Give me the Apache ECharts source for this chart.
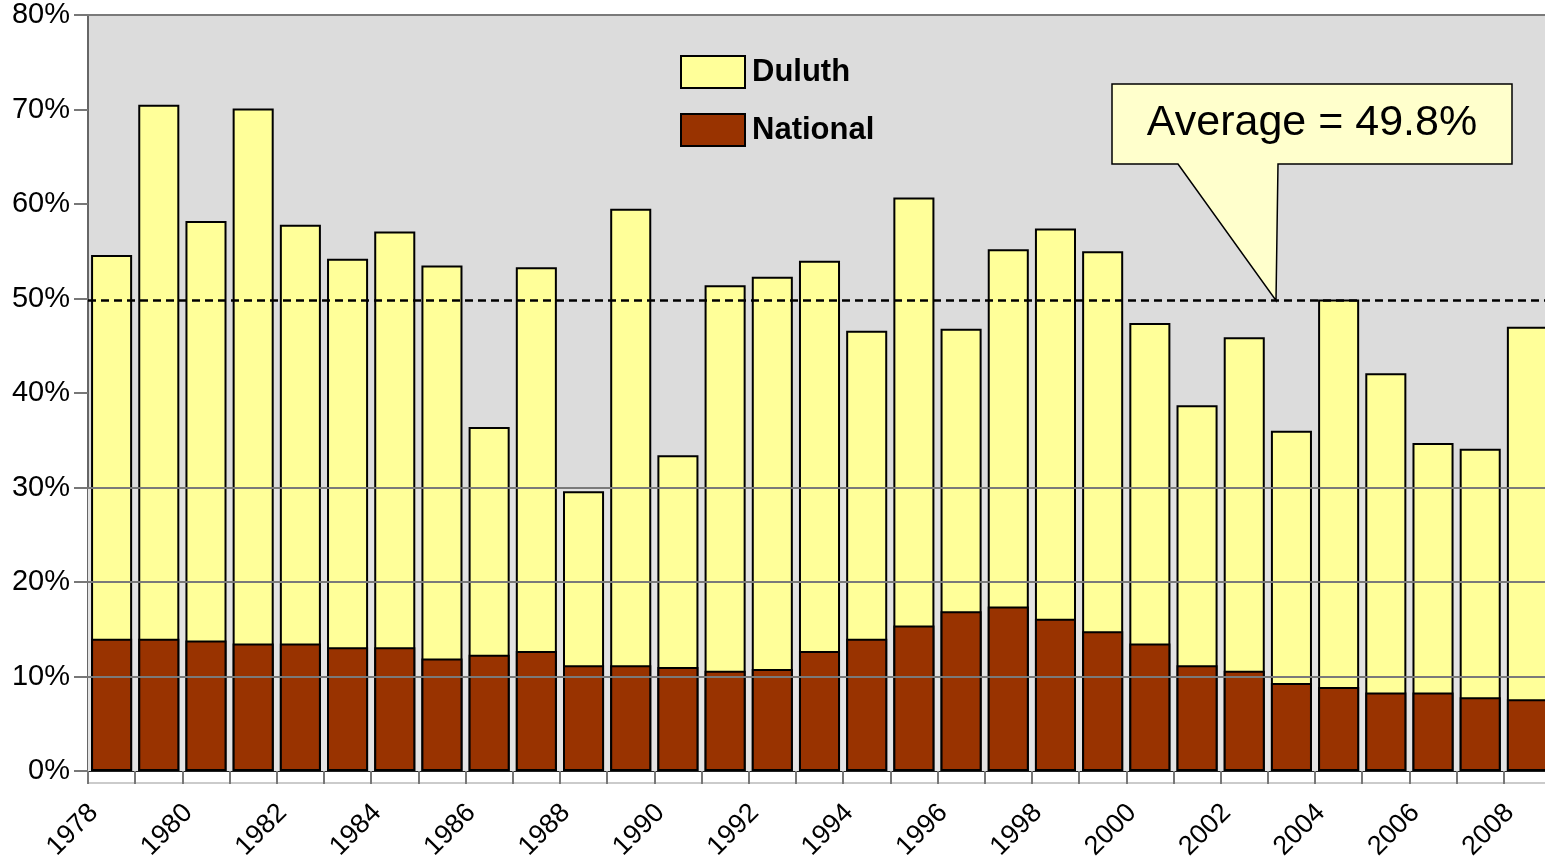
<!DOCTYPE html>
<html>
<head>
<meta charset="utf-8">
<script src="https://cdn.jsdelivr.net/npm/echarts@6/dist/echarts.min.js"></script>
<style>
  html, body { margin: 0; padding: 0; background: #ffffff; }
  #chart { width: 1545px; height: 858px; }
</style>
</head>
<body>
<div id="chart"></div>
<script>
const years = ['1978','1979','1980','1981','1982','1983','1984','1985','1986','1987',
  '1988','1989','1990','1991','1992','1993','1994','1995','1996','1997',
  '1998','1999','2000','2001','2002','2003','2004','2005','2006','2007','2008'];
const duluth = [54.6,70.5,58.2,70.1,57.8,54.2,57.1,53.5,36.4,53.3,
  29.6,59.5,33.4,51.4,52.3,54.0,46.6,60.7,46.8,55.2,
  57.4,55.0,47.4,38.7,45.9,36.0,49.9,42.1,34.7,34.1,47.0];
const national = [14.0,14.0,13.8,13.5,13.5,13.1,13.1,11.9,12.3,12.7,
  11.2,11.2,11.0,10.6,10.8,12.7,14.0,15.4,16.9,17.4,
  16.1,14.8,13.5,11.2,10.6,9.3,8.9,8.3,8.3,7.8,7.6];
const yTicks = [0,10,20,30,40,50,60,70,80];
const gridValues = [10,20,30,80];   // gridlines drawn in the reference
const lightBand = [0,30];           // lighter background band

const avg = duluth.reduce((a,b)=>a+b,0)/duluth.length;
const FONT = '"Liberation Sans", Arial, sans-serif';
const gridStyle = { color: '#7a7a7a', width: 2, type: 'solid' };

const chart = echarts.init(document.getElementById('chart'));
chart.setOption({
  animation: false,
  backgroundColor: '#ffffff',
  textStyle: { fontFamily: FONT },
  grid: { left: 88, top: 15, bottom: 87, right: -6, show: true, backgroundColor: '#DCDCDC', borderWidth: 0,
    containLabel: false, outerBoundsMode: 'none' },
  legend: {
    left: 680, top: 55, orient: 'vertical', padding: 0,
    itemWidth: 64, itemHeight: 32, itemGap: 24,
    icon: 'rect',
    data: ['Duluth','National'],
    textStyle: { fontSize: 31, fontWeight: 'bold', color: '#000', fontFamily: FONT, padding: [8,0,0,2] }
  },
  xAxis: [{
    type: 'category', data: years, position: 'bottom',
    axisLine: { show: true, lineStyle: { color: '#222', width: 2 } },
    axisTick: { show: true, interval: 0, length: 13, lineStyle: { color: '#777', width: 2 } },
    axisLabel: { interval: 1, rotate: 45, fontSize: 27, color: '#000', margin: 20, fontFamily: FONT,
      padding: [0, 25, 0, 0] },
    splitLine: { show: false }
  }, {
    type: 'category', data: years, position: 'bottom', offset: 12,
    axisLine: { show: true, lineStyle: { color: '#bbb', width: 1.5 } },
    axisTick: { show: false }, axisLabel: { show: false }, splitLine: { show: false }
  }],
  yAxis: {
    type: 'value', min: 0, max: 80, interval: 10,
    axisLine: { show: true, lineStyle: { color: '#666', width: 2 } },
    axisTick: { show: true, length: 14, lineStyle: { color: '#777', width: 2 } },
    axisLabel: { fontSize: 29, color: '#000', margin: 18, fontFamily: FONT,
      formatter: v => yTicks.includes(v) ? v + '%' : '' },
    splitLine: { show: false }
  },
  series: [
    {
      name: 'Guides', type: 'line', data: [], z: 1, silent: true,
      markArea: {
        silent: true,
        itemStyle: { color: '#E3E3E3' },
        data: [[{ yAxis: lightBand[0] }, { yAxis: lightBand[1] }]]
      },
      markLine: {
        silent: true, symbol: 'none', animation: false,
        label: { show: false },
        data: gridValues.map(v => ({ yAxis: v, lineStyle: gridStyle }))
          .concat([{ yAxis: avg, lineStyle: { color: '#000', width: 2.5, type: [8,5] } }])
      }
    },
    {
      name: 'Duluth', type: 'bar', data: duluth, barCategoryGap: '13%', barGap: '-100%', z: 2,
      itemStyle: { color: '#FFFF99', borderColor: '#000', borderWidth: 2 }
    },
    {
      name: 'National', type: 'bar', data: national, barCategoryGap: '13%', barGap: '-100%', z: 3,
      itemStyle: { color: '#993300', borderColor: '#000', borderWidth: 2 }
    }
  ]
});

// Callout annotation pointing at the average line
const tipY = chart.convertToPixel({ yAxisIndex: 0 }, avg);
const bx = 1112, by = 84, bw = 400, bh = 80;
chart.setOption({
  graphic: [{
    type: 'group', z: 100,
    children: [{
      type: 'polygon',
      shape: { points: [[bx,by],[bx+bw,by],[bx+bw,by+bh],[1278,by+bh],[1276,tipY],[1178,by+bh],[bx,by+bh]] },
      style: { fill: '#FFFFCC', stroke: '#000', lineWidth: 1.5 }
    }, {
      type: 'text',
      x: bx + bw/2, y: by + bh/2 - 1,
      style: { text: 'Average = ' + avg.toFixed(1) + '%', fontSize: 43, fontFamily: FONT,
        fill: '#000', align: 'center', verticalAlign: 'middle' }
    }]
  }]
});
</script>
</body>
</html>
